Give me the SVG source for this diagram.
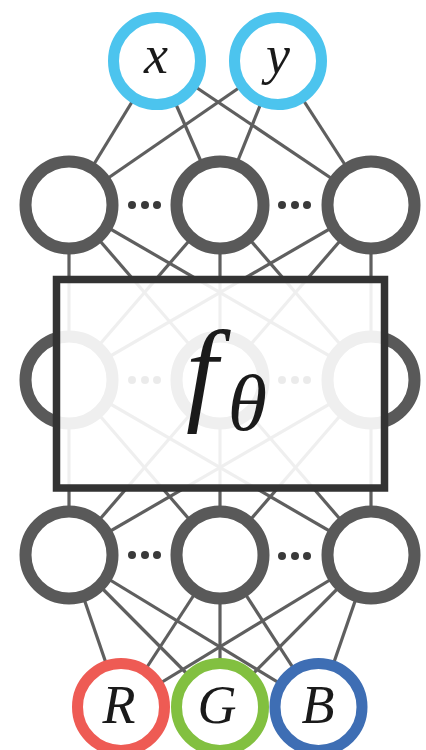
<svg xmlns="http://www.w3.org/2000/svg" width="426" height="750" viewBox="0 0 426 750">
<style>
.edge{stroke:#5f5f5f;stroke-width:3.2;fill:none}
.hid{fill:#fff;stroke:#595959;stroke-width:12}
.io{fill:#fff;stroke-width:11}
.dot{fill:#3a3a3a}
.lbl{font-family:"Liberation Serif","DejaVu Serif",serif;font-style:italic;fill:#1a1a1a;text-anchor:middle}
</style>
<rect width="426" height="750" fill="#fff"/>
<g id="connectors">
<line class="edge" x1="157" y1="61" x2="69" y2="205"/>
<line class="edge" x1="157" y1="61" x2="220" y2="205"/>
<line class="edge" x1="157" y1="61" x2="371" y2="205"/>
<line class="edge" x1="278" y1="61" x2="69" y2="205"/>
<line class="edge" x1="278" y1="61" x2="220" y2="205"/>
<line class="edge" x1="278" y1="61" x2="371" y2="205"/>
<line class="edge" x1="69" y1="205" x2="69" y2="380"/>
<line class="edge" x1="69" y1="205" x2="220" y2="380"/>
<line class="edge" x1="69" y1="205" x2="371" y2="380"/>
<line class="edge" x1="220" y1="205" x2="69" y2="380"/>
<line class="edge" x1="220" y1="205" x2="220" y2="380"/>
<line class="edge" x1="220" y1="205" x2="371" y2="380"/>
<line class="edge" x1="371" y1="205" x2="69" y2="380"/>
<line class="edge" x1="371" y1="205" x2="220" y2="380"/>
<line class="edge" x1="371" y1="205" x2="371" y2="380"/>
<line class="edge" x1="69" y1="380" x2="69" y2="555"/>
<line class="edge" x1="69" y1="380" x2="220" y2="555"/>
<line class="edge" x1="69" y1="380" x2="371" y2="555"/>
<line class="edge" x1="220" y1="380" x2="69" y2="555"/>
<line class="edge" x1="220" y1="380" x2="220" y2="555"/>
<line class="edge" x1="220" y1="380" x2="371" y2="555"/>
<line class="edge" x1="371" y1="380" x2="69" y2="555"/>
<line class="edge" x1="371" y1="380" x2="220" y2="555"/>
<line class="edge" x1="371" y1="380" x2="371" y2="555"/>
<line class="edge" x1="69" y1="555" x2="121" y2="707"/>
<line class="edge" x1="69" y1="555" x2="220" y2="707"/>
<line class="edge" x1="69" y1="555" x2="318.5" y2="707"/>
<line class="edge" x1="220" y1="555" x2="121" y2="707"/>
<line class="edge" x1="220" y1="555" x2="220" y2="707"/>
<line class="edge" x1="220" y1="555" x2="318.5" y2="707"/>
<line class="edge" x1="371" y1="555" x2="121" y2="707"/>
<line class="edge" x1="371" y1="555" x2="220" y2="707"/>
<line class="edge" x1="371" y1="555" x2="318.5" y2="707"/>
</g>
<g id="input-x"><circle class="io" cx="157" cy="61" r="43.5" stroke="#4cc4ee"/><text class="lbl" x="156" y="73" font-size="54">x</text></g>
<g id="input-y"><circle class="io" cx="278" cy="61" r="43.5" stroke="#4cc4ee"/><text class="lbl" x="278" y="73" font-size="54">y</text></g>
<g id="h1-a"><circle class="hid" cx="69" cy="205" r="43.5"/></g>
<g id="h1-dots-a"><circle class="dot" cx="132" cy="205" r="4"/><circle class="dot" cx="145" cy="205" r="4"/><circle class="dot" cx="157" cy="205" r="4"/></g>
<g id="h1-b"><circle class="hid" cx="220" cy="205" r="43.5"/></g>
<g id="h1-dots-b"><circle class="dot" cx="282" cy="205" r="4"/><circle class="dot" cx="295" cy="205" r="4"/><circle class="dot" cx="307" cy="205" r="4"/></g>
<g id="h1-c"><circle class="hid" cx="371" cy="205" r="43.5"/></g>
<g id="h2-a"><circle class="hid" cx="69" cy="380" r="43.5"/></g>
<g id="h2-dots-a"><circle class="dot" cx="132" cy="380" r="4"/><circle class="dot" cx="145" cy="380" r="4"/><circle class="dot" cx="157" cy="380" r="4"/></g>
<g id="h2-b"><circle class="hid" cx="220" cy="380" r="43.5"/></g>
<g id="h2-dots-b"><circle class="dot" cx="282" cy="380" r="4"/><circle class="dot" cx="295" cy="380" r="4"/><circle class="dot" cx="307" cy="380" r="4"/></g>
<g id="h2-c"><circle class="hid" cx="371" cy="380" r="43.5"/></g>
<g id="h3-a"><circle class="hid" cx="69" cy="555" r="43.5"/></g>
<g id="h3-dots-a"><circle class="dot" cx="132" cy="555" r="4"/><circle class="dot" cx="145" cy="555" r="4"/><circle class="dot" cx="157" cy="555" r="4"/></g>
<g id="h3-b"><circle class="hid" cx="220" cy="555" r="43.5"/></g>
<g id="h3-dots-b"><circle class="dot" cx="282" cy="556" r="4"/><circle class="dot" cx="295" cy="556" r="4"/><circle class="dot" cx="307" cy="556" r="4"/></g>
<g id="h3-c"><circle class="hid" cx="371" cy="555" r="43.5"/></g>
<g id="out-R"><circle class="io" cx="121" cy="707" r="43.5" stroke="#ee5b54"/><text class="lbl" x="119" y="723" font-size="54">R</text></g>
<g id="out-G"><circle class="io" cx="220" cy="707" r="43.5" stroke="#82c040"/><text class="lbl" x="217" y="723" font-size="54">G</text></g>
<g id="out-B"><circle class="io" cx="318.5" cy="707" r="43.5" stroke="#3e6eb4"/><text class="lbl" x="318" y="723" font-size="54">B</text></g>
<g id="f-theta">
<rect x="56.5" y="279.5" width="328" height="208.5" fill="#fff" fill-opacity="0.9" stroke="#333" stroke-width="7.5"/>
<text font-family="'Liberation Serif','DejaVu Serif',serif" font-style="italic" fill="#1a1a1a" x="186" y="410" font-size="114">f<tspan font-size="80" dx="10" dy="20">θ</tspan></text>
</g>
</svg>
